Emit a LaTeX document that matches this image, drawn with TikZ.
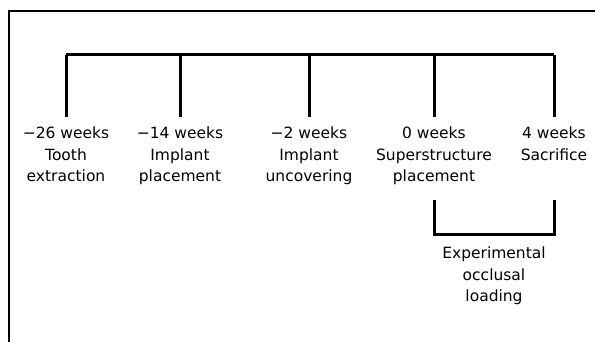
\documentclass[tikz,border=0pt]{standalone}
\usepackage{fontspec}
\setmainfont{DejaVu Sans}
\usetikzlibrary{calc,positioning}
\tikzset{event/.style={
    align=center,inner sep=0pt,
    font=\fontsize{15.5}{21.5}\selectfont}}
\tikzset{timeline/.style={line width=3pt}}
\tikzset{frame/.style={line width=1.5pt}}

\begin{document}
\begin{tikzpicture}[x=1pt,y=1pt,node distance=72pt]
\useasboundingbox (0,0) rectangle (595,-342);
\draw [frame] (9,-342) -- (9,-11) -- (595,-11);

\coordinate (t1) at (66,-55);
\coordinate (t2) at (180,-55);
\coordinate (t3) at (309,-55);
\coordinate (t4) at (434,-55);
\coordinate (t5) at (554,-55);

  \node (ev1) [event,below=of t1] {−26 weeks\\Tooth\\extraction};
  \node (ev2) [event,below=of t2] {−14 weeks\\Implant\\placement};
  \node (ev3) [event,below=of t3] {−2 weeks\\Implant\\uncovering};
  \node (ev4) [event,below=of t4] {0 weeks\\Superstructure\\placement};
  \node (ev5) [event,below=of t5] {4 weeks\\Sacrifice};

\draw [timeline] (t1) -- (t5);
\foreach \i in {1,...,5}
  \draw [timeline,shorten >=10pt] (t\i) -- (ev\i.north);

\coordinate (load1) at (434,-200);
\coordinate (load2) at (554,-200);
\draw [timeline] (load1) -- ++(0,-35) -| (load2);
\node (loading) [event,below=47pt of $(load1)!0.5!(load2)$] {Experimental\\occlusal\\loading};

\end{tikzpicture}
\end{document}
